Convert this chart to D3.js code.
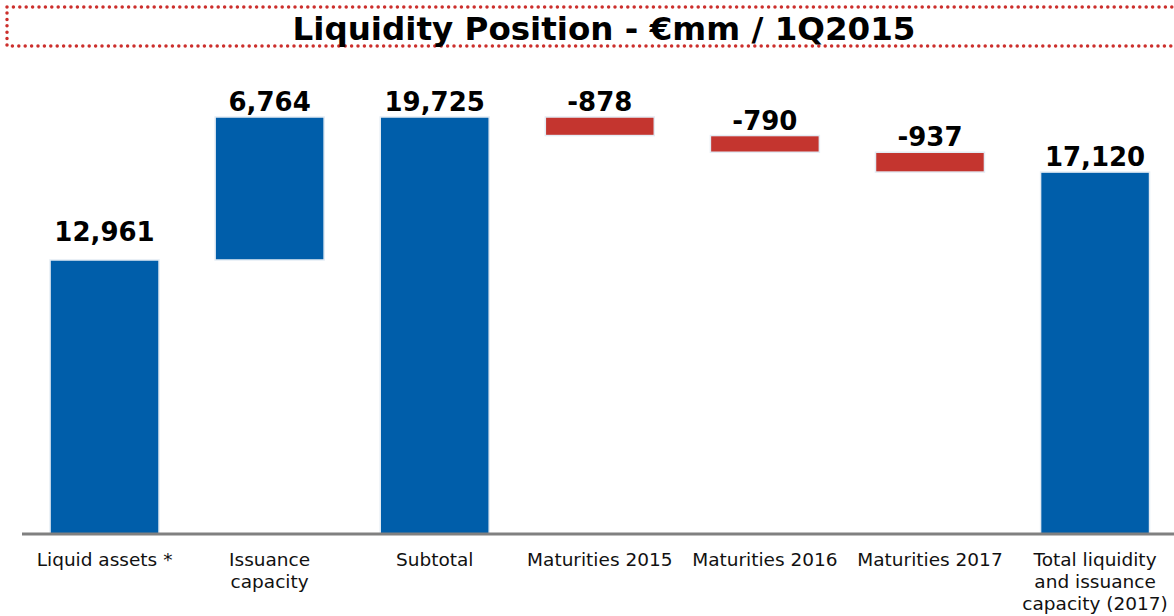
<!DOCTYPE html>
<html>
<head>
<meta charset="utf-8">
<script src="https://cdn.jsdelivr.net/npm/d3@7"></script>
<style>
    body { margin: 0; background: #fff; }
    svg { display: block; }
</style>
</head>
<body>
<svg id="chart" width="1174" height="616"></svg>
<script>
// chart data
const categories = [
    ["Liquid assets *"],
    ["Issuance", "capacity"],
    ["Subtotal"],
    ["Maturities 2015"],
    ["Maturities 2016"],
    ["Maturities 2017"],
    ["Total liquidity", "and issuance", "capacity (2017)"]
];
const values = [12961, 6764, 19725, -878, -790, -937, 17120];
// "total" bars start at zero, "step" bars float on the running sum
const kinds = ["total", "step", "total", "step", "step", "step", "total"];
const valueLabels = ["12,961", "6,764", "19,725", "-878", "-790", "-937", "17,120"];
const title = "Liquidity Position - \u20acmm / 1Q2015";

const svg = d3.select("#chart");
const baseY = 534;

// running sum -> floating segments
let running = 0;
const bars = values.map(function (v, i) {
    let y0, y1;
    if (kinds[i] === "total") {
        y0 = 0; y1 = v; running = v;
    } else {
        y0 = running; y1 = running + v; running = y1;
    }
    return {i: i, v: v, lo: Math.min(y0, y1), hi: Math.max(y0, y1)};
});

const x = d3.scaleBand()
    .domain(d3.range(categories.length))
    .range([22, 1177.6])
    .paddingInner(0.34)
    .paddingOuter(0.17);

const y = d3.scaleLinear()
    .domain([0, 19725])
    .range([baseY, 117]);

// title box with dotted red border
svg.append("rect")
    .attr("x", 7).attr("y", 7)
    .attr("width", 1180).attr("height", 39)
    .attr("fill", "none")
    .attr("stroke", "#cc2f2c")
    .attr("stroke-width", 3.5)
    .attr("stroke-linecap", "round")
    .attr("stroke-dasharray", "0 6.4");

svg.append("text")
    .attr("x", 604).attr("y", 40)
    .attr("text-anchor", "middle")
    .attr("font-family", "DejaVu Sans")
    .attr("font-weight", "bold")
    .attr("font-size", 32)
    .attr("textLength", 623)
    .attr("lengthAdjust", "spacingAndGlyphs")
    .attr("fill", "#000")
    .text(title);

// bars
svg.append("g").selectAll("rect")
    .data(bars)
    .join("rect")
    .attr("x", function (d) { return x(d.i); })
    .attr("width", x.bandwidth())
    .attr("y", function (d) { return y(d.hi); })
    .attr("height", function (d) { return y(d.lo) - y(d.hi); })
    .attr("fill", function (d) { return d.v < 0 ? "#c4352f" : "#005eaa"; })
    .attr("stroke", "#e4ecf4")
    .attr("stroke-width", 1.5);

// baseline
svg.append("line")
    .attr("x1", 22).attr("x2", 1174)
    .attr("y1", baseY).attr("y2", baseY)
    .attr("stroke", "#808080")
    .attr("stroke-width", 3);

// value labels
svg.append("g").selectAll("text")
    .data(bars)
    .join("text")
    .attr("x", function (d) { return x(d.i) + x.bandwidth() / 2; })
    .attr("y", function (d) { return y(d.hi) - (d.i === 0 ? 19 : 6); })
    .attr("text-anchor", "middle")
    .attr("font-family", "DejaVu Sans")
    .attr("font-weight", "bold")
    .attr("font-size", 26)
    .attr("fill", "#000")
    .text(function (d) { return valueLabels[d.i]; });

// category labels
const cat = svg.append("g").selectAll("text")
    .data(categories)
    .join("text")
    .attr("x", function (d, i) { return x(i) + x.bandwidth() / 2; })
    .attr("y", 566)
    .attr("text-anchor", "middle")
    .attr("font-family", "DejaVu Sans")
    .attr("font-size", 18.5)
    .attr("fill", "#111");
cat.selectAll("tspan")
    .data(function (d) { return d; })
    .join("tspan")
    .attr("x", function () { return d3.select(this.parentNode).attr("x"); })
    .attr("dy", function (d, j) { return j === 0 ? 0 : 22; })
    .text(function (d) { return d; });
</script>
</body>
</html>
